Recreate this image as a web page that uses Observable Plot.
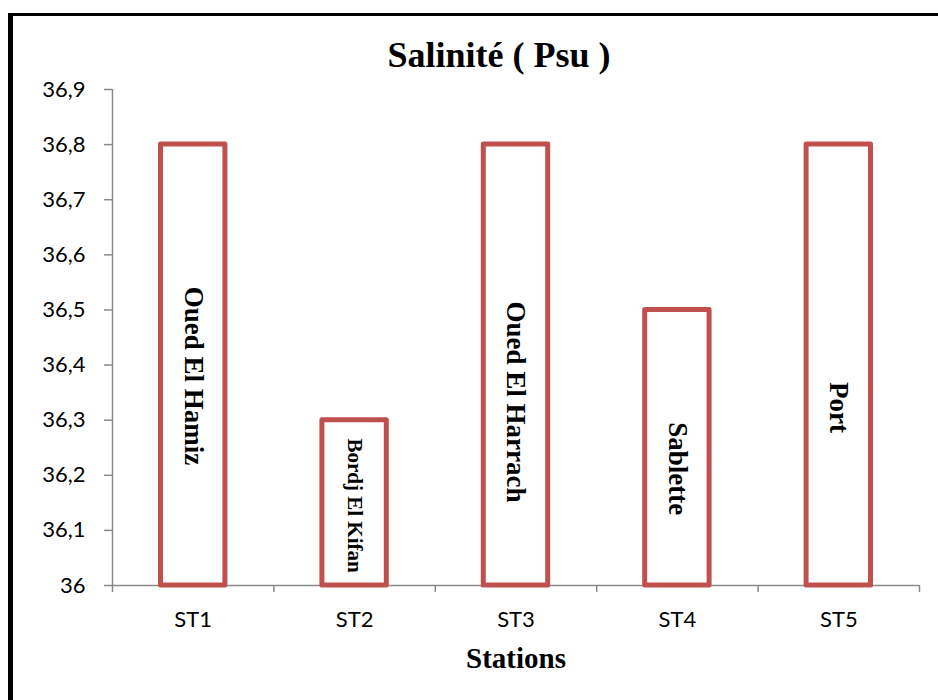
<!DOCTYPE html>
<html>
<head>
<meta charset="utf-8">
<script src="https://cdn.jsdelivr.net/npm/d3@7"></script>
<script src="https://cdn.jsdelivr.net/npm/@observablehq/plot@0.6"></script>
<style>
  html, body { margin: 0; padding: 0; background: #fff; }
  body { width: 938px; height: 700px; overflow: hidden; position: relative; }
  #box {
    position: absolute; left: 8px; top: 13px; width: 960px; height: 720px;
    border-left: 5px solid #000; border-top: 3px solid #000; box-sizing: border-box;
  }
  #chart { position: absolute; left: 0; top: 0; }
  .title {
    position: absolute; left: 299px; width: 400px; top: 37px; text-align: center;
    font-family: "Liberation Serif", "Times New Roman", serif; font-weight: bold;
    font-size: 36px; line-height: 36px; color: #000; white-space: nowrap;
  }
  .xlabel {
    position: absolute; left: 366px; width: 300px; top: 644px; text-align: center;
    font-family: "Liberation Serif", "Times New Roman", serif; font-weight: bold;
    font-size: 29px; line-height: 29px; color: #000;
  }
</style>
</head>
<body>
<div id="box"></div>
<div id="chart"></div>
<div class="title">Salinité ( Psu )</div>
<div class="xlabel">Stations</div>
<script>
// Salinity measured at each sampling station
const stations = ["ST1", "ST2", "ST3", "ST4", "ST5"];
const sites = ["Oued El Hamiz", "Bordj El Kifan", "Oued El Harrach", "Sablette", "Port"];
const salinity = [36.8, 36.3, 36.8, 36.5, 36.8];
// where each site name sits along the bar, in Psu
const labelAt = [36.38, 36.145, 36.333, 36.212, 36.323];

const yTicks = [36, 36.1, 36.2, 36.3, 36.4, 36.5, 36.6, 36.7, 36.8, 36.9];
const yTickLabels = ["36", "36,1", "36,2", "36,3", "36,4", "36,5", "36,6", "36,7", "36,8", "36,9"];

const rows = stations.map((s, i) => ({
  i, station: s, site: sites[i], value: salinity[i], labelAt: labelAt[i]
}));

const axisGray = "#8a8a8a";
const barRed = "#C0504D";

const chart = Plot.plot({
  width: 938,
  height: 700,
  marginLeft: 112,
  marginRight: 19,
  marginTop: 89,
  marginBottom: 115,
  x: { type: "linear", domain: [0, stations.length], label: null },
  y: { domain: [36, 36.9], label: null },
  style: { background: "none", fontFamily: "Lato, 'Open Sans', sans-serif", fontSize: "22px", color: "#000" },
  marks: [
    Plot.ruleY([36], { stroke: axisGray, strokeWidth: 1.5 }),
    Plot.ruleX([0], { stroke: axisGray, strokeWidth: 1.5 }),
    Plot.axisY({
      ticks: yTicks,
      tickSize: 8,
      tickPadding: 19,
      stroke: axisGray,
      strokeWidth: 1.5,
      fill: "#000",
      fontSize: 22,
      label: null,
      tickFormat: d => yTickLabels[yTicks.indexOf(d)]
    }),
    // category boundaries
    Plot.axisX({
      ticks: d3.range(stations.length + 1),
      tickSize: 7,
      stroke: axisGray,
      strokeWidth: 1.5,
      label: null,
      tickFormat: () => ""
    }),
    // station names under each bar
    Plot.axisX({
      ticks: stations.map((_, i) => i + 0.5),
      tickSize: 0,
      tickPadding: 26,
      fill: "#000",
      fontSize: 22,
      label: null,
      tickFormat: d => stations[Math.floor(d)]
    }),
    Plot.rect(rows, {
      x1: d => d.i,
      x2: d => d.i + 1,
      y1: 36,
      y2: "value",
      insetLeft: 48.5,
      insetRight: 48.5,
      fill: "#fff",
      stroke: barRed,
      strokeWidth: 5,
      strokeLinejoin: "round"
    }),
    Plot.text(rows, {
      x: d => d.i + 0.5,
      y: "labelAt",
      text: "site",
      rotate: 90,
      fontFamily: "'Liberation Serif', 'Times New Roman', serif",
      fontWeight: "bold",
      fontSize: d => d.station === "ST2" ? 21 : 27,
      fill: "#000"
    })
  ]
});

document.getElementById("chart").appendChild(chart);
</script>
</body>
</html>
